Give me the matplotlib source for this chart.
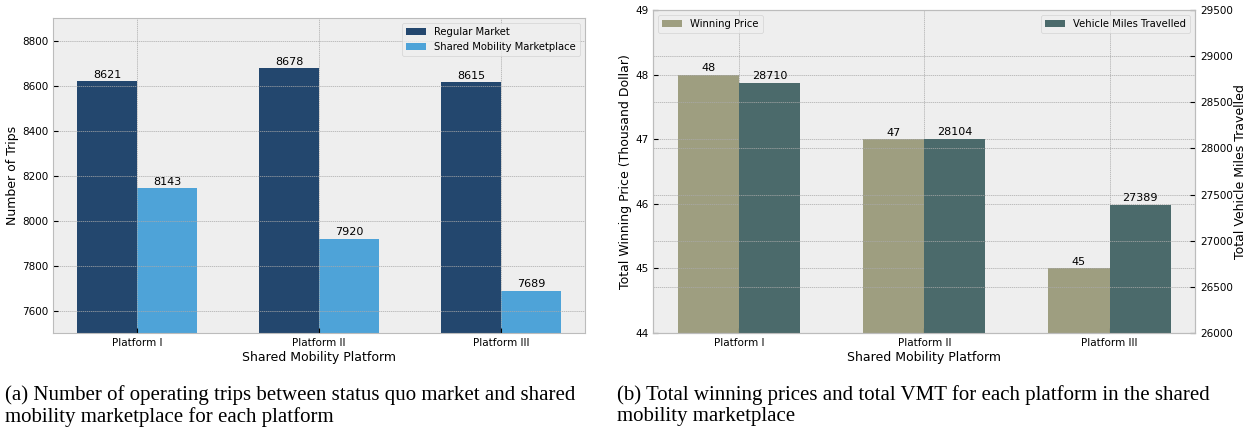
import numpy as np
import matplotlib.pyplot as plt

# dados
plataformas = ["Platform I", "Platform II", "Platform III"]
viagens_regular = [8621, 8678, 8615]
viagens_shared = [8143, 7920, 7689]
preco_vencedor = [48, 47, 45]
vmt = [28710, 28104, 27389]

plt.style.use('bmh')
plt.rcParams['font.family'] = 'DejaVu Sans'
plt.rcParams['grid.linestyle'] = (0, (2, 1))
plt.rcParams['grid.color'] = '#aaaaaa'

fig = plt.figure(figsize=(12.49, 4.32), dpi=100)
ax1 = fig.add_axes([0.0424, 0.229, 0.426, 0.729])
ax2 = fig.add_axes([0.523, 0.229, 0.434, 0.748])

x = np.arange(len(plataformas))
w = 0.33

# (a) numero de viagens
b1 = ax1.bar(x - w/2, viagens_regular, w, color='#23476e', label='Regular Market')
b2 = ax1.bar(x + w/2, viagens_shared, w, color='#4ea3d8', label='Shared Mobility Marketplace')
ax1.bar_label(b1, fontsize=8, padding=1)
ax1.bar_label(b2, fontsize=8, padding=1)
ax1.set_ylim(7500, 8900)
ax1.set_xticks(x)
ax1.set_xticklabels(plataformas)
ax1.tick_params(labelsize=7.5)
ax1.set_xlabel("Shared Mobility Platform", fontsize=9, labelpad=2)
ax1.set_ylabel("Number of Trips", fontsize=9, labelpad=2)
ax1.legend(loc='upper right', fontsize=7.2)

# (b) preco e VMT
ax3 = ax2.twinx()
b3 = ax2.bar(x - w/2, preco_vencedor, w, color='#9e9e80', label='Winning Price')
b4 = ax3.bar(x + w/2, vmt, w, color='#4b6a6b', label='Vehicle Miles Travelled')
ax2.bar_label(b3, fontsize=8, padding=1)
ax3.bar_label(b4, fontsize=8, padding=1)
ax2.set_ylim(44, 49)
ax3.set_ylim(26000, 29500)
ax2.set_xticks(x)
ax2.set_xticklabels(plataformas)
ax2.tick_params(labelsize=7.5)
ax3.tick_params(labelsize=7.5)
ax2.set_xlabel("Shared Mobility Platform", fontsize=9, labelpad=2)
ax2.set_ylabel("Total Winning Price (Thousand Dollar)", fontsize=9, labelpad=2)
ax3.set_ylabel("Total Vehicle Miles Travelled", fontsize=9, labelpad=1)
ax2.legend(loc='upper left', fontsize=7.2)
ax3.legend(loc='upper right', fontsize=7.2)

# legendas das figuras
fig.text(0.004, 1 - 385/432, "(a) Number of operating trips between status quo market and shared\nmobility marketplace for each platform",
         family='Liberation Serif', fontsize=15, linespacing=1.12, va='top')
fig.text(0.494, 1 - 385/432, "(b) Total winning prices and total VMT for each platform in the shared\nmobility marketplace",
         family='Liberation Serif', fontsize=15, linespacing=1.12, va='top')

fig.savefig("out.png", dpi=100)
